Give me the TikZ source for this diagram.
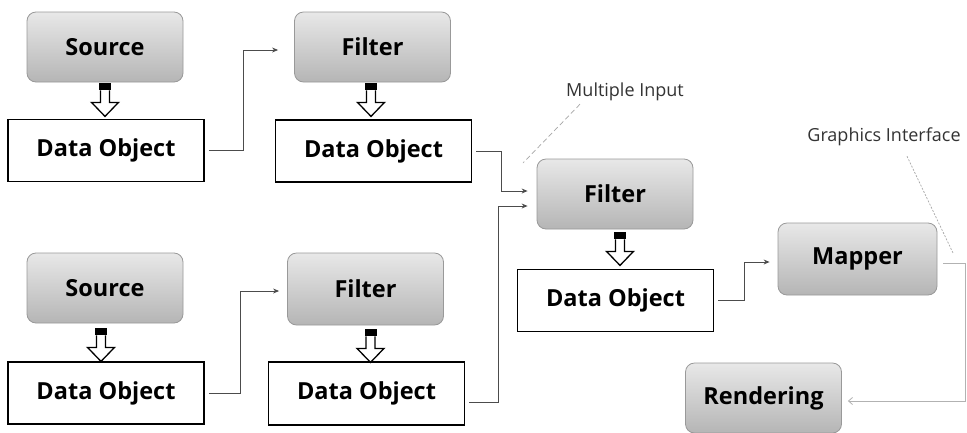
\documentclass[tikz,border=0pt]{standalone}
\usepackage{fontspec}
\setmainfont{Open Sans}
\usetikzlibrary{arrows.meta,calc}

\tikzset{
  stage/.style={draw=gray!80, line width=0.8pt, rounded corners=9pt,
    top color=gray!18, bottom color=gray!58,
    minimum width=156pt, minimum height=70pt, inner sep=0pt,
    font=\bfseries\fontsize{23.5}{26}\selectfont},
  databox/.style={draw=black, line width=1.6pt, fill=white,
    minimum width=196pt, minimum height=62pt, inner sep=0pt,
    font=\bfseries\fontsize{23.5}{26}\selectfont},
  conn/.style={draw=black!70, line width=1pt, shorten <=4pt,
    -{Stealth[length=6pt,width=5pt]}},
  faintconn/.style={draw=black!30, line width=0.8pt, shorten <=6pt,
    -{Straight Barb[length=4pt,width=7pt]}},
  note/.style={inner sep=0pt, text=black!80,
    font=\fontsize{18}{20}\selectfont},
  leader/.style={draw=black!35, line width=0.7pt, dashed, dash pattern=on 5pt off 3pt},
  blockarrow/.pic={
    \fill[black] (-6,0) rectangle (6,7);
    \draw[line width=1.3pt, fill=white, line join=miter]
      (-4.5,7) -- (-4.5,19) -- (-13.5,19) -- (0,33) -- (13.5,19) -- (4.5,19) -- (4.5,7);
  }
}

\begin{document}
\begin{tikzpicture}[x=1pt,y=-1pt]
\useasboundingbox (0,0) rectangle (967,432);
\fill[white] (0,0) rectangle (967,432);

% upper pipeline
\node[stage]   (src1) at (105,47)    {Source};
\node[databox] (do1)  at (106,150.5) {Data Object};
\node[stage]   (flt1) at (372.5,47)  {Filter};
\node[databox] (do2)  at (373.5,151) {Data Object};

% lower pipeline
\node[stage]   (src2) at (105,288)   {Source};
\node[databox] (do5)  at (106,393)   {Data Object};
\node[stage, minimum height=72pt] (flt2) at (365.5,289) {Filter};
\node[databox, minimum height=63pt] (do4) at (366.5,393.5) {Data Object};

% merge, mapping and rendering
\node[stage]   (flt3) at (615,194)   {Filter};
\node[databox] (do3)  at (615.5,300.5) {Data Object};
\node[stage, minimum width=159pt, minimum height=72pt] (map) at (857.5,259) {Mapper};
\node[stage]   (ren)  at (763.5,398) {Rendering};

% outputs of each process
\pic at ([yshift=-1pt]src1.south) {blockarrow};
\pic at ([xshift=-1.5pt,yshift=-1pt]flt1.south) {blockarrow};
\pic at ([xshift=-4pt,yshift=-5pt]src2.south) {blockarrow};
\pic at ([xshift=5pt,yshift=-4pt]flt2.south) {blockarrow};
\pic at ([xshift=5pt,yshift=-3pt]flt3.south) {blockarrow};

% data flow
\draw[conn, shorten >=16pt] (do1.east) -- ++(39,0) |- ([yshift=-3pt]flt1.west);
\draw[conn, shorten >=8pt]  (do5.east) -- ++(36,0) |- ([yshift=-2pt]flt2.west);
\draw[conn, shorten >=9pt]  (do2.east) -- ++(29,0) |- ([yshift=3pt]flt3.west);
\draw[conn, shorten >=9pt]  ([yshift=-9pt]do4.east) -- ++(33,0) |- ([yshift=-12pt]flt3.west);
\draw[conn, shorten >=8pt]  (do3.east) -- ++(30,0) |- ([yshift=-3pt]map.west);
\draw[faintconn, shorten >=6pt] ([yshift=-4pt]map.east) -- ++(28,0) |- ([yshift=-3pt]ren.east);

% annotations
\node[note] (mi) at (625,92)  {Multiple Input};
\coordinate (miend) at (523,163);
\draw[leader] (mi.south west) ++(14,3) -- (miend);

\node[note] (gi) at (884,137) {Graphics Interface};
\coordinate (giend) at (953,253);
\draw[leader, dash pattern=on 2pt off 1.5pt] (gi.south) ++(23,10) -- (giend);
\end{tikzpicture}
\end{document}
